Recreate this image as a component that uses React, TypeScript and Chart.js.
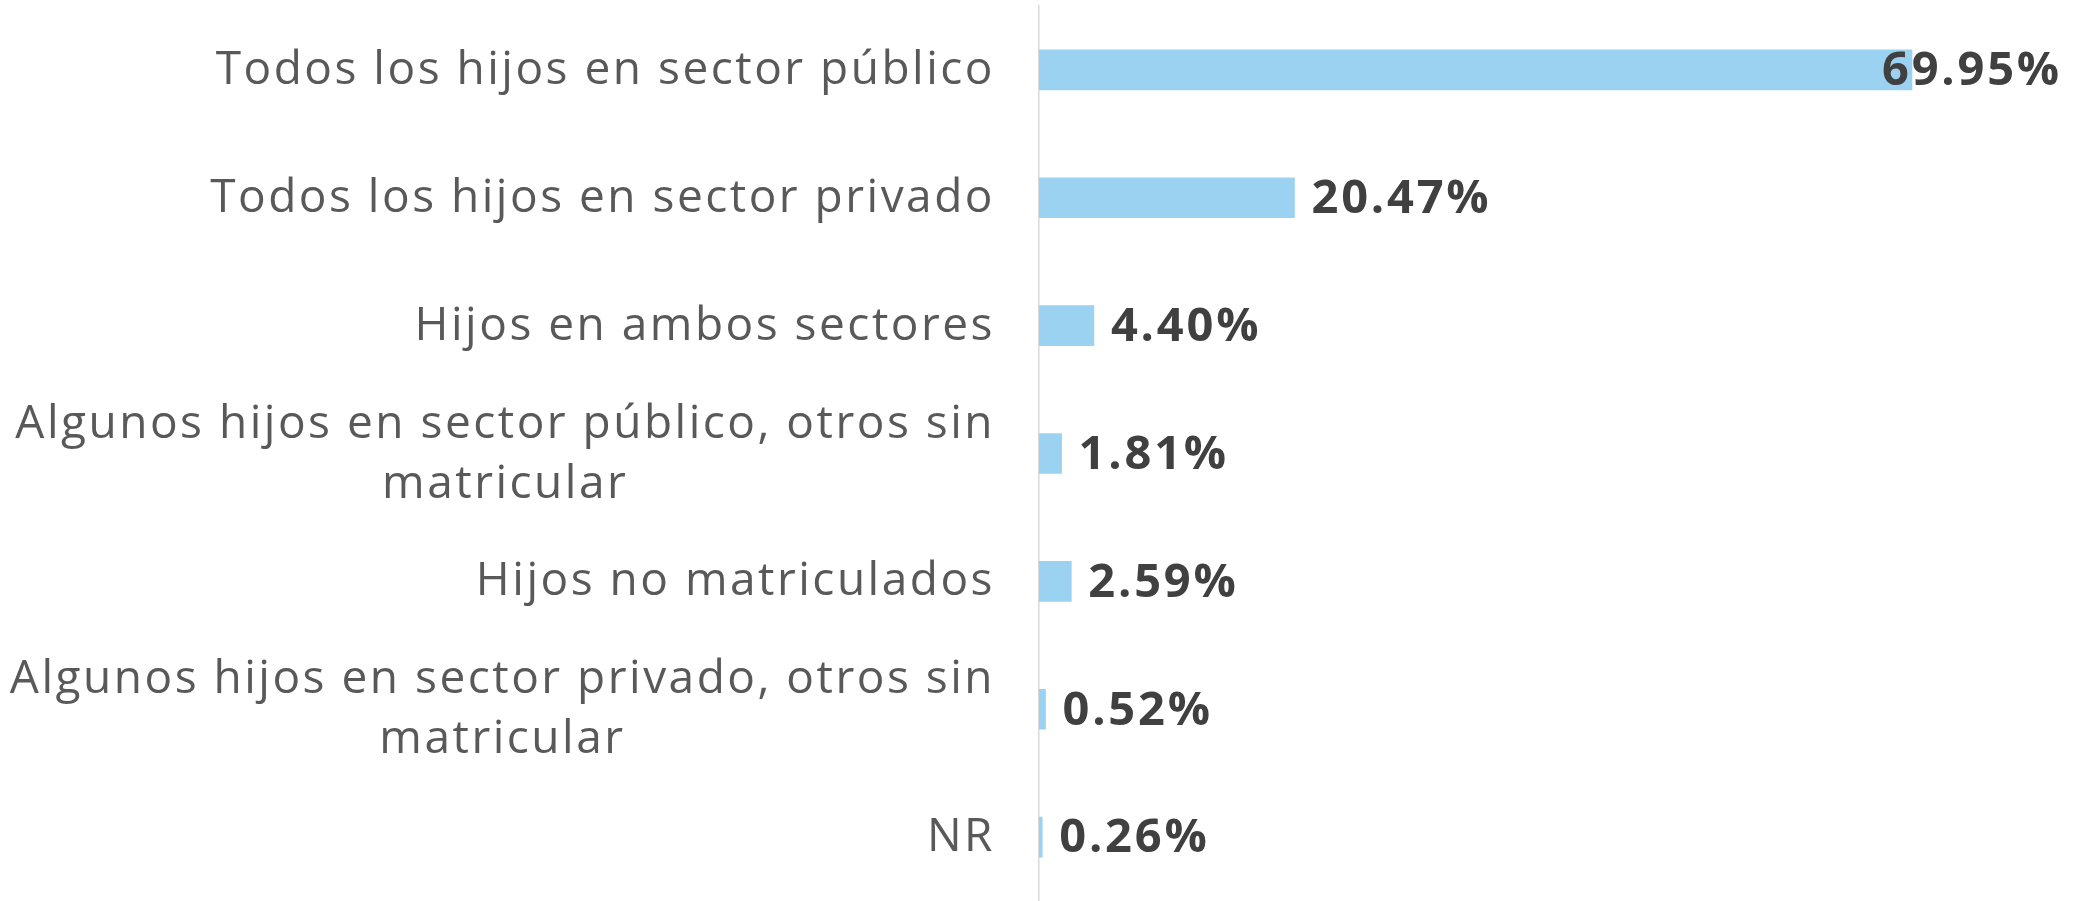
import React, { useEffect, useRef } from "react";
import { Chart, registerables } from "chart.js";

Chart.register(...registerables);

const categories: (string | string[])[] = [
  "Todos los hijos en sector público",
  "Todos los hijos en sector privado",
  "Hijos en ambos sectores",
  ["Algunos hijos en sector público, otros sin", "matricular"],
  "Hijos no matriculados",
  ["Algunos hijos en sector privado, otros sin", "matricular"],
  "NR",
];
const values = [69.95, 20.47, 4.4, 1.81, 2.59, 0.52, 0.26];
const valueLabels = values.map((v) => v.toFixed(2) + "%");

const CAT_FONT = '400 46px "Open Sans"';
const CAT_SPACING = "2.5px";
const VAL_FONT = '700 47px "Open Sans"';
const VAL_SPACING = "2.8px";

const catLabelPlugin = {
  id: "catLabels",
  afterDraw(chart: any) {
    const ctx = chart.ctx as CanvasRenderingContext2D;
    const yScale = chart.scales.y;
    ctx.save();
    ctx.font = CAT_FONT;
    (ctx as any).letterSpacing = CAT_SPACING;
    ctx.fillStyle = "#595959";
    ctx.textBaseline = "middle";
    ctx.textAlign = "center";
    const right = chart.chartArea.left - 44;
    const lh = 60;
    categories.forEach((c, i) => {
      const lines = Array.isArray(c) ? c : [c];
      const w = Math.max(...lines.map((l) => ctx.measureText(l).width));
      const cy = yScale.getPixelForValue(i) + 1;
      lines.forEach((l, j) => {
        ctx.fillText(l, right - w / 2, cy + (j - (lines.length - 1) / 2) * lh);
      });
    });
    ctx.restore();
  },
};

const valueLabelPlugin = {
  id: "valueLabels",
  afterDatasetsDraw(chart: any) {
    const ctx = chart.ctx as CanvasRenderingContext2D;
    const meta = chart.getDatasetMeta(0);
    ctx.save();
    ctx.font = VAL_FONT;
    (ctx as any).letterSpacing = VAL_SPACING;
    ctx.fillStyle = "#404040";
    ctx.textBaseline = "middle";
    ctx.textAlign = "left";
    meta.data.forEach((el: any, i: number) => {
      const t = valueLabels[i];
      const w = ctx.measureText(t).width;
      let x = el.x + 17;
      if (x + w > chart.width - 13) x = chart.width - 13 - w;
      ctx.fillText(t, x, el.y + 2);
    });
    ctx.restore();
  },
};

export default function App() {
  const ref = useRef<HTMLCanvasElement | null>(null);
  useEffect(() => {
    if (!ref.current) return;
    const chart = new Chart(ref.current, {
      type: "bar",
      data: {
        labels: categories as any,
        datasets: [
          {
            data: values,
            backgroundColor: "#9BD1F1",
            barThickness: 40,
          },
        ],
      },
      options: {
        animation: false,
        responsive: true,
        maintainAspectRatio: false,
        indexAxis: "y",
        layout: { padding: { left: 1039, right: 37.6, top: 6, bottom: 0 } },
        plugins: { legend: { display: false }, tooltip: { enabled: false } },
        scales: {
          x: { display: false, min: 0, max: 80 },
          y: {
            ticks: { display: false },
            grid: { display: false, drawTicks: false },
            border: { display: true, color: "#d9d9d9", width: 1.5 },
            afterFit: (s: any) => {
              s.width = 0;
            },
          },
        },
      },
      plugins: [catLabelPlugin, valueLabelPlugin],
    });
    return () => chart.destroy();
  }, []);
  return (
    <div style={{ position: "fixed", left: 0, top: 0, width: 2075, height: 901, background: "#fff" }}>
      <canvas ref={ref} />
    </div>
  );
}
